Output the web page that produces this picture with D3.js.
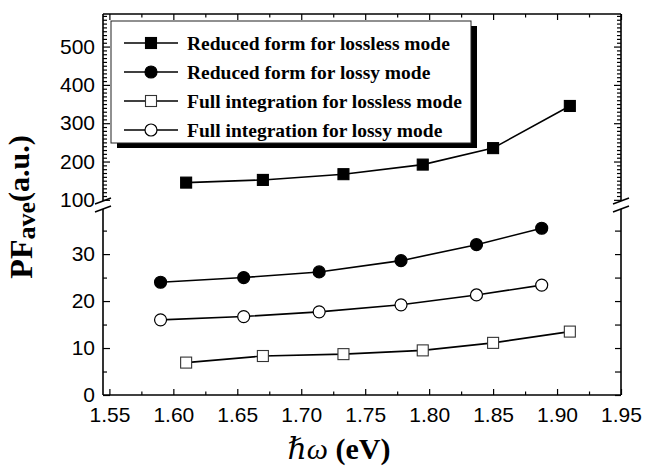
<!DOCTYPE html>
<html>
<head>
<meta charset="utf-8">
<script src="https://cdn.jsdelivr.net/npm/d3@7"></script>
<style>
  body { margin: 0; background: #fff; }
  svg { display: block; }
  .tick text { font-family: Arial, "Liberation Sans", sans-serif; font-size: 21px; fill: #000; }
</style>
</head>
<body>
<div id="chart"></div>
<script>
// data
const xSquares = [1.61, 1.67, 1.733, 1.795, 1.85, 1.91];
const xCircles = [1.59, 1.655, 1.714, 1.778, 1.837, 1.888];
const reducedLossless = [145, 152, 167, 192, 235, 345];
const reducedLossy = [24.0, 25.0, 26.2, 28.6, 32.0, 35.5];
const fullLossless = [6.9, 8.3, 8.7, 9.5, 11.1, 13.5];
const fullLossy = [16.0, 16.7, 17.7, 19.2, 21.3, 23.4];

const seriesNames = [
  "Reduced form for lossless mode",
  "Reduced form for lossy mode",
  "Full integration for lossless mode",
  "Full integration for lossy mode"
];
const xTicks = [1.55, 1.60, 1.65, 1.70, 1.75, 1.80, 1.85, 1.90, 1.95];
const yLowTicks = [0, 10, 20, 30];
const yHighTicks = [100, 200, 300, 400, 500];

const width = 645, height = 466;
const svg = d3.select("#chart").append("svg")
  .attr("width", width)
  .attr("height", height);

const x = d3.scaleLinear().domain([1.545, 1.95]).range([103, 621]);
const yLow = d3.scaleLinear().domain([0, 39.6]).range([395, 209]);
const yHigh = d3.scaleLinear().domain([97, 585]).range([201, 14]);

const plotLeft = x.range()[0], plotRight = x.range()[1];
const plotTop = yHigh.range()[1], plotBottom = yLow.range()[0];

// minor tick values
let xMinor = d3.range(1.575, 1.95, 0.05);
let yLowMinor = [5, 15, 25, 35];
let yHighMinor = d3.range(100, 590, 10).filter(v => v % 100 !== 0);

// bottom axis
svg.append("g").attr("transform", `translate(0,${plotBottom})`)
  .call(d3.axisBottom(x).tickValues(xTicks).tickSize(-6).tickPadding(12).tickFormat(d3.format(".2f")))
  .call(g => g.select(".domain").remove());
svg.append("g").attr("transform", `translate(0,${plotBottom})`)
  .call(d3.axisBottom(x).tickValues(xMinor).tickSize(-3.5).tickFormat(""))
  .call(g => g.select(".domain").remove());
// top axis
svg.append("g").attr("transform", `translate(0,${plotTop})`)
  .call(d3.axisTop(x).tickValues(xTicks).tickSize(-6).tickFormat(""))
  .call(g => g.select(".domain").remove());
svg.append("g").attr("transform", `translate(0,${plotTop})`)
  .call(d3.axisTop(x).tickValues(xMinor).tickSize(-3.5).tickFormat(""))
  .call(g => g.select(".domain").remove());

// left axis, two segments
svg.append("g").attr("transform", `translate(${plotLeft},0)`)
  .call(d3.axisLeft(yLow).tickValues(yLowTicks).tickSize(-7).tickPadding(8))
  .call(g => g.select(".domain").remove());
svg.append("g").attr("transform", `translate(${plotLeft},0)`)
  .call(d3.axisLeft(yLow).tickValues(yLowMinor).tickSize(-4).tickFormat(""))
  .call(g => g.select(".domain").remove());
svg.append("g").attr("transform", `translate(${plotLeft},0)`)
  .call(d3.axisLeft(yHigh).tickValues(yHighTicks).tickSize(-7).tickPadding(8))
  .call(g => g.select(".domain").remove());
svg.append("g").attr("transform", `translate(${plotLeft},0)`)
  .call(d3.axisLeft(yHigh).tickValues(yHighMinor).tickSize(-4).tickFormat(""))
  .call(g => g.select(".domain").remove());

// right axis, two segments
svg.append("g").attr("transform", `translate(${plotRight},0)`)
  .call(d3.axisRight(yLow).tickValues(yLowTicks.concat(yLowMinor)).tickSize(-6).tickFormat(""))
  .call(g => g.select(".domain").remove());
svg.append("g").attr("transform", `translate(${plotRight},0)`)
  .call(d3.axisRight(yHigh).tickValues(yHighTicks).tickSize(-7).tickFormat(""))
  .call(g => g.select(".domain").remove());
svg.append("g").attr("transform", `translate(${plotRight},0)`)
  .call(d3.axisRight(yHigh).tickValues(yHighMinor).tickSize(-4).tickFormat(""))
  .call(g => g.select(".domain").remove());

svg.selectAll(".tick line").attr("stroke", "#000").attr("stroke-width", 1.2);

// frame lines (broken on the sides)
const frame = svg.append("g").attr("stroke", "#000").attr("stroke-width", 1.6).attr("fill", "none");
frame.append("line").attr("x1", plotLeft).attr("x2", plotRight).attr("y1", plotTop).attr("y2", plotTop);
frame.append("line").attr("x1", plotLeft).attr("x2", plotRight).attr("y1", plotBottom).attr("y2", plotBottom);
[plotLeft, plotRight].forEach(ax => {
  frame.append("line").attr("x1", ax).attr("x2", ax).attr("y1", plotTop).attr("y2", yHigh.range()[0]);
  frame.append("line").attr("x1", ax).attr("x2", ax).attr("y1", yLow.range()[1]).attr("y2", plotBottom);
  // break marks
  [yHigh.range()[0], yLow.range()[1]].forEach(yb => {
    frame.append("line")
      .attr("x1", ax - 8).attr("y1", yb + 3)
      .attr("x2", ax + 8).attr("y2", yb - 3);
  });
});

// series
const series = [
  {name: seriesNames[0], xs: xSquares, ys: reducedLossless, y: yHigh, shape: "square", fill: "#000"},
  {name: seriesNames[1], xs: xCircles, ys: reducedLossy, y: yLow, shape: "circle", fill: "#000"},
  {name: seriesNames[2], xs: xSquares, ys: fullLossless, y: yLow, shape: "square", fill: "#fff"},
  {name: seriesNames[3], xs: xCircles, ys: fullLossy, y: yLow, shape: "circle", fill: "#fff"}
];

function drawMarker(g, shape, fill, cx, cy) {
  if (shape === "square") {
    g.append("rect")
      .attr("x", cx - 5.5).attr("y", cy - 5.5)
      .attr("width", 11).attr("height", 11)
      .attr("fill", fill)
      .attr("stroke", fill === "#000" ? "#000" : "#333")
      .attr("stroke-width", 1.1);
  } else {
    g.append("circle")
      .attr("cx", cx).attr("cy", cy).attr("r", 6)
      .attr("fill", fill)
      .attr("stroke", "#000")
      .attr("stroke-width", 1.2);
  }
}

series.forEach(s => {
  let pts = s.xs.map((d, i) => [x(d), s.y(s.ys[i])]);
  let g = svg.append("g");
  g.append("path")
    .attr("d", d3.line()(pts))
    .attr("fill", "none")
    .attr("stroke", "#000")
    .attr("stroke-width", 1.6);
  pts.forEach(p => drawMarker(g, s.shape, s.fill, p[0], p[1]));
});

// legend
const leg = {x: 111, y: 21, w: 360, h: 122};
const legend = svg.append("g");
legend.append("rect")
  .attr("x", leg.x + 6).attr("y", leg.y + 5)
  .attr("width", leg.w).attr("height", leg.h)
  .attr("fill", "#000");
legend.append("rect")
  .attr("x", leg.x).attr("y", leg.y)
  .attr("width", leg.w).attr("height", leg.h)
  .attr("fill", "#fff")
  .attr("stroke", "#222").attr("stroke-width", 1);

series.forEach((s, i) => {
  let cy = 43 + i * 29;
  legend.append("line")
    .attr("x1", 124).attr("x2", 178)
    .attr("y1", cy).attr("y2", cy)
    .attr("stroke", "#000").attr("stroke-width", 1.6);
  drawMarker(legend, s.shape, s.fill, 151, cy);
  legend.append("text")
    .attr("x", 187).attr("y", cy + 6.5)
    .attr("font-family", "'Times New Roman', 'Liberation Serif', serif")
    .attr("font-weight", "bold")
    .attr("font-size", 19.5)
    .text(s.name);
});

// axis titles
const xTitle = svg.append("text")
  .attr("x", 339).attr("y", 459)
  .attr("text-anchor", "middle")
  .attr("font-family", "'Times New Roman', 'Liberation Serif', 'DejaVu Serif', serif")
  .attr("font-size", 30);
xTitle.append("tspan").attr("font-style", "italic").text("\u210F\u03C9");
xTitle.append("tspan").attr("font-weight", "bold").text(" (eV)");

const yTitle = svg.append("text")
  .attr("transform", "translate(32,207) rotate(-90)")
  .attr("text-anchor", "middle")
  .attr("font-family", "'Times New Roman', 'Liberation Serif', serif")
  .attr("font-weight", "bold")
  .attr("font-size", 32);
yTitle.append("tspan").text("PF");
yTitle.append("tspan").attr("font-size", 26).attr("dy", 3).text("ave");
yTitle.append("tspan").attr("font-size", 30).attr("dy", -6).text("(a.u.)");
</script>
</body>
</html>
